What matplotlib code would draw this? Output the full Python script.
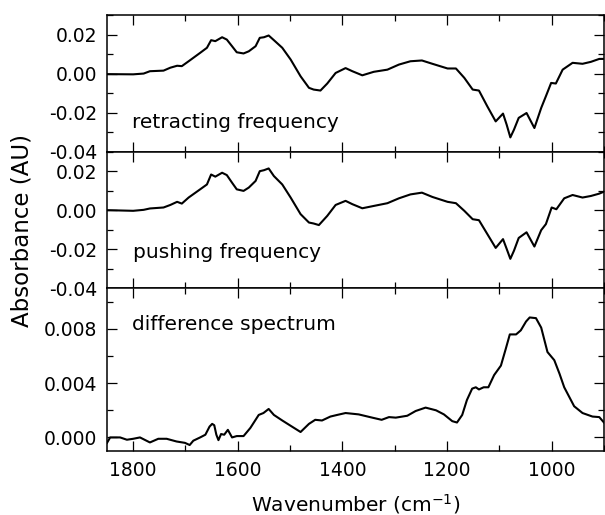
import numpy as np
import matplotlib
matplotlib.use('Agg')
import matplotlib.pyplot as plt
from matplotlib.ticker import MultipleLocator

plt.rcParams['font.family'] = 'DejaVu Sans'
plt.rcParams['axes.unicode_minus'] = False

# retracting frequency (top panel)
wn_retract = [1850, 1844, 1800, 1780, 1768, 1742, 1729, 1716, 1707, 1694,
              1672, 1659, 1651, 1643, 1630, 1621, 1611, 1602, 1589, 1579,
              1566, 1558, 1550, 1541, 1531, 1515, 1499, 1480, 1464, 1455,
              1442, 1429, 1413, 1394, 1381, 1362, 1340, 1314, 1292, 1270,
              1248, 1228, 1199, 1183, 1167, 1151, 1139, 1123, 1107, 1093,
              1086, 1079, 1072, 1063, 1048, 1033, 1020, 1011, 1001, 992,
              979, 960, 941, 925, 909, 900]
abs_retract = [-0.0003, -0.0003, -0.0004, 0.0, 0.0012, 0.0015, 0.003, 0.004, 0.0038, 0.0063,
               0.0106, 0.0132, 0.0171, 0.0166, 0.0186, 0.0174, 0.014, 0.0109, 0.0103, 0.0114,
               0.014, 0.0183, 0.0186, 0.0195, 0.0171, 0.0132, 0.0072, -0.0014, -0.0073, -0.0082,
               -0.0087, -0.0051, 0.0003, 0.0028, 0.0012, -0.0009, 0.0009, 0.002, 0.0046, 0.0063,
               0.0067, 0.005, 0.0026, 0.0026, -0.0022, -0.0082, -0.0087, -0.0168, -0.0245, -0.0205,
               -0.0262, -0.0327, -0.0287, -0.0227, -0.0202, -0.0279, -0.0176, -0.0116, -0.0048, -0.0051,
               0.002, 0.0055, 0.005, 0.006, 0.0075, 0.0075]

# pushing frequency (middle panel)
wn_push = [1850, 1844, 1800, 1780, 1768, 1742, 1729, 1716, 1707, 1694,
           1672, 1659, 1651, 1643, 1630, 1621, 1611, 1602, 1589, 1579,
           1566, 1558, 1550, 1541, 1531, 1515, 1499, 1480, 1464, 1455,
           1445, 1429, 1413, 1394, 1381, 1362, 1340, 1314, 1292, 1270,
           1248, 1228, 1199, 1183, 1167, 1151, 1139, 1123, 1107, 1093,
           1086, 1079, 1072, 1063, 1048, 1033, 1020, 1011, 1000, 991,
           976, 960, 941, 925, 909, 900]
abs_push = [0.0, 0.0, -0.0003, 0.0002, 0.0009, 0.0014, 0.0027, 0.0043, 0.0034, 0.0065,
            0.0107, 0.0132, 0.0183, 0.0172, 0.0192, 0.018, 0.0141, 0.0107, 0.0099, 0.0116,
            0.015, 0.02, 0.0205, 0.0214, 0.0175, 0.0132, 0.0065, -0.002, -0.0063, -0.0068,
            -0.0076, -0.0029, 0.0027, 0.0048, 0.0031, 0.001, 0.0022, 0.0036, 0.0061, 0.0081,
            0.009, 0.0068, 0.0043, 0.0036, -0.0003, -0.0046, -0.0051, -0.0122, -0.0193, -0.0148,
            -0.0198, -0.0249, -0.0207, -0.0142, -0.0113, -0.0186, -0.0102, -0.0071, 0.0014, 0.0005,
            0.0061, 0.0078, 0.0065, 0.0073, 0.0085, 0.0095]

# difference spectrum (bottom panel)
wn_diff = [1850, 1844, 1825, 1812, 1800, 1787, 1768, 1752, 1736, 1717,
           1701, 1692, 1685, 1672, 1662, 1654, 1649, 1645, 1641, 1637,
           1632, 1626, 1619, 1611, 1602, 1589, 1576, 1560, 1551, 1541,
           1531, 1515, 1499, 1480, 1464, 1452, 1439, 1423, 1410, 1394,
           1369, 1343, 1325, 1311, 1298, 1276, 1260, 1241, 1221, 1206,
           1190, 1181, 1171, 1162, 1152, 1145, 1139, 1130, 1121, 1110,
           1097, 1088, 1080, 1068, 1059, 1049, 1042, 1030, 1020, 1008,
           995, 985, 976, 957, 941, 922, 909, 900]
abs_diff = [-0.0004, 0.0, 0.0, -0.00017, -0.0001, 0.0, -0.00037, -0.0001, -0.0001, -0.0003,
            -0.0004, -0.00056, -0.00024, 0.0, 0.0002, 0.0008, 0.001, 0.0009, 0.0002, -0.0002,
            0.00025, 0.0002, 0.00056, 0.0, 0.0001, 0.0001, 0.0007, 0.00166, 0.0018, 0.0021,
            0.00166, 0.00125, 0.00086, 0.0004, 0.001, 0.0013, 0.00125, 0.00154, 0.00166, 0.0018,
            0.0017, 0.00146, 0.0013, 0.0015, 0.00146, 0.0016, 0.00195, 0.0022, 0.002, 0.0017,
            0.0012, 0.0011, 0.00166, 0.00276, 0.0036, 0.0037, 0.00354, 0.0037, 0.0037, 0.0046,
            0.0053, 0.0065, 0.0076, 0.0076, 0.0079, 0.00855, 0.00885, 0.0088, 0.0081, 0.0063,
            0.0057, 0.0047, 0.0037, 0.0023, 0.0018, 0.00154, 0.0015, 0.0011]

labels = ['retracting frequency', 'pushing frequency', 'difference spectrum']

fig = plt.figure(figsize=(6.05, 5.15), dpi=100)
gs = fig.add_gridspec(3, 1, height_ratios=[136.7, 136.7, 162.7], hspace=0,
                      left=0.1769, right=0.9983, top=0.9709, bottom=0.1243)
axes = [fig.add_subplot(gs[0])]
axes.append(fig.add_subplot(gs[1], sharex=axes[0]))
axes.append(fig.add_subplot(gs[2], sharex=axes[0]))

series = [(wn_retract, abs_retract), (wn_push, abs_push), (wn_diff, abs_diff)]
for ax, (w, a) in zip(axes, series):
    ax.plot(w, a, color='black', lw=1.5, solid_joinstyle='round')
    for s in ax.spines.values():
        s.set_linewidth(1.1)
    ax.tick_params(which='both', direction='in', top=True, right=True,
                   width=0.9, labelsize=13.5, pad=7)
    ax.tick_params(which='major', length=7)
    ax.tick_params(which='minor', length=4)

ax = axes[0]
ax.set_xlim(1850, 900)
ax.xaxis.set_major_locator(MultipleLocator(200))
ax.xaxis.set_minor_locator(MultipleLocator(100))

for ax in axes[:2]:
    ax.set_ylim(-0.04, 0.03)
    ax.yaxis.set_major_locator(MultipleLocator(0.02))
    ax.yaxis.set_minor_locator(MultipleLocator(0.01))
    ax.yaxis.set_major_formatter(plt.FormatStrFormatter('%.2f'))
    ax.tick_params(labelbottom=False)

axes[2].set_ylim(-0.001, 0.011)
axes[2].yaxis.set_major_locator(MultipleLocator(0.004))
axes[2].yaxis.set_minor_locator(MultipleLocator(0.002))
axes[2].yaxis.set_major_formatter(plt.FormatStrFormatter('%.3f'))

axes[0].text(0.05, 0.171, labels[0], transform=axes[0].transAxes, fontsize=14.5, va='baseline')
axes[1].text(0.053, 0.222, labels[1], transform=axes[1].transAxes, fontsize=14.5, va='baseline')
axes[2].text(0.051, 0.744, labels[2], transform=axes[2].transAxes, fontsize=14.5, va='baseline')

fig.text(0.036, 0.553, 'Absorbance (AU)', rotation=90, fontsize=16.5, ha='center', va='center')
fig.text(0.5877, 0.0078, 'Wavenumber (cm$^{-1}$)', fontsize=14.5, ha='center', va='baseline')

plt.savefig('out.png', dpi=100)
